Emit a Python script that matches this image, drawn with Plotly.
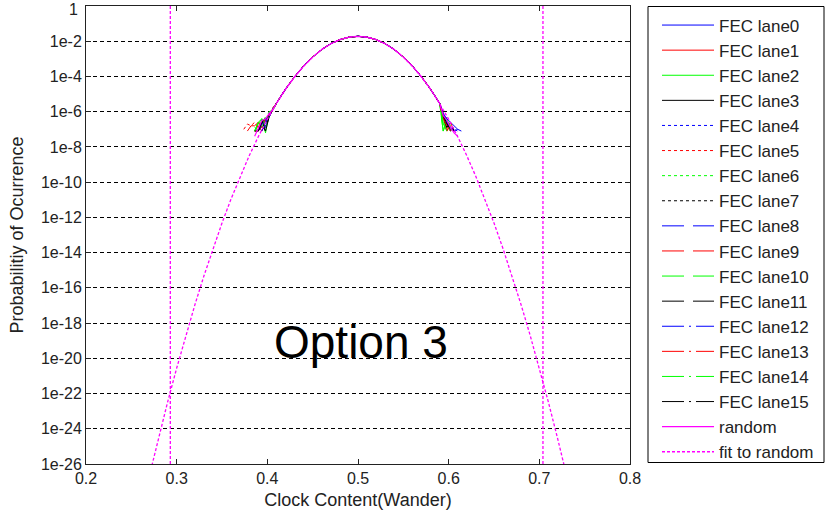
import plotly.graph_objects as go

# ---------------- data (log10 of probability) ----------------
core_x = [0.41, 0.42, 0.43, 0.44, 0.45, 0.46, 0.47, 0.48, 0.49, 0.50,
          0.51, 0.52, 0.53, 0.54, 0.55, 0.56, 0.57, 0.58, 0.59]
core_log = [-5.52, -4.72, -4.02, -3.41, -2.90, -2.47, -2.14, -1.91, -1.77, -1.72,
            -1.77, -1.91, -2.14, -2.47, -2.90, -3.41, -4.02, -4.72, -5.52]

tail_left_x = [0.374, 0.378, 0.382, 0.386, 0.390, 0.394, 0.398, 0.402, 0.406]
tail_right_x = [0.594, 0.598, 0.602, 0.606, 0.610, 0.614]

lane_left = [
    [None, None, None, None, -7.1, -6.6, -6.9, -6.2, -5.9],
    [None, None, None, -7.1, -6.8, -7.1, -6.5, -6.3, -5.8],
    [None, None, None, -7.1, -6.7, -6.4, -7.2, -6.1, -5.9],
    [None, None, None, None, -7.1, -6.8, -7.1, -6.3, -5.9],
    [None, None, None, None, -6.9, -7.1, -6.5, -6.2, -5.8],
    [-7.0, -6.7, -6.8, -6.6, -6.9, -6.5, -6.6, -6.1, -5.9],
    [None, None, None, -6.9, -7.1, -6.6, -6.3, -6.2, -5.9],
    [None, None, None, None, -7.1, -6.6, -6.8, -6.1, -5.9],
    [None, None, None, None, None, -7.1, -6.6, -6.3, -5.9],
    [None, None, None, -7.1, -7.1, -6.7, -6.4, -6.2, -5.8],
    [None, None, None, -7.1, -6.6, -6.9, -6.4, -6.0, -5.9],
    [None, None, None, None, -7.1, -6.5, -7.1, -6.2, -5.9],
    [None, None, None, None, -7.1, -6.7, -6.5, -6.1, -5.9],
    [None, -7.1, -6.8, -6.8, -6.6, -6.9, -6.4, -6.2, -5.9],
    [None, None, None, -7.1, -6.6, -6.4, -6.7, -6.1, -5.9],
    [None, None, None, -7.1, -7.1, -6.6, -6.4, -6.2, -5.9],
]
lane_right = [
    [-6.2, -6.4, -6.6, -6.8, -7.0, -7.1],
    [-6.3, -7.1, -6.6, -7.1, None, None],
    [-7.1, -6.5, -7.1, None, None, None],
    [-6.1, -6.6, -6.9, -7.1, None, None],
    [-6.2, -6.5, -6.9, -7.0, -7.1, None],
    [-6.4, -6.9, -6.6, -7.1, None, None],
    [-6.8, -6.3, -7.1, None, None, None],
    [-6.2, -6.7, -7.1, -6.9, None, None],
    [-6.1, -6.4, -6.7, -7.1, -7.0, None],
    [-6.5, -7.1, -6.8, None, None, None],
    [-7.1, -6.4, -6.8, None, None, None],
    [-6.3, -6.9, -6.6, -7.1, None, None],
    [-6.2, -6.6, -6.9, -7.1, None, None],
    [-6.4, -6.8, -7.1, None, None, None],
    [-6.6, -7.1, None, None, None, None],
    [-6.2, -6.7, -7.0, -7.1, None, None],
]
random_left = [None, None, None, -7.4, -6.9, -6.5, -6.4, -6.1, -5.9]
random_right = [-6.2, -6.5, -6.9, -7.2, -7.4, None]

fit_x = [0.27, 0.28, 0.29, 0.30, 0.31, 0.32, 0.33, 0.34, 0.35, 0.36, 0.37, 0.38,
         0.39, 0.40, 0.41, 0.42, 0.43, 0.44, 0.45, 0.46, 0.47, 0.48, 0.49, 0.50,
         0.51, 0.52, 0.53, 0.54, 0.55, 0.56, 0.57, 0.58, 0.59, 0.60, 0.61, 0.62,
         0.63, 0.64, 0.65, 0.66, 0.67, 0.68, 0.69, 0.70, 0.71, 0.72, 0.73]
fit_log = [-26.64, -24.52, -22.49, -20.56, -18.72, -16.98, -15.33, -13.78, -12.32,
           -10.95, -9.68, -8.50, -7.42, -6.43, -5.54, -4.73, -4.03, -3.42, -2.90,
           -2.47, -2.14, -1.91, -1.77, -1.72, -1.77, -1.91, -2.14, -2.47, -2.90,
           -3.42, -4.03, -4.73, -5.54, -6.43, -7.42, -8.50, -9.68, -10.95, -12.32,
           -13.78, -15.33, -16.98, -18.72, -20.56, -22.49, -24.52, -26.64]

limit_x = [0.293, 0.704]

lane_names = ["FEC lane%d" % i for i in range(16)]
ytick_exp = [0, -2, -4, -6, -8, -10, -12, -14, -16, -18, -20, -22, -24, -26]
ytick_text = ["1"] + ["1e%d" % e for e in ytick_exp[1:]]
xtick_vals = [0.2, 0.3, 0.4, 0.5, 0.6, 0.7, 0.8]

# ---------------- styles ----------------
colors = ["#0000ff", "#ff0000", "#00ff00", "#000000"]
dashes = ["solid", "3px,3px", "22px,9px", "22px,5px,2px,5px"]
MAG = "#ff00ff"
FONT = "Liberation Sans, Arial"
TXT = "#222222"


def to_p(vals):
    return [None if v is None else 10 ** v for v in vals]


fig = go.Figure()
for i in range(16):
    xs = tail_left_x + core_x + tail_right_x
    ys = to_p(lane_left[i] + core_log + lane_right[i])
    fig.add_trace(go.Scatter(
        x=xs, y=ys, mode="lines", name=lane_names[i],
        line=dict(color=colors[i % 4], width=1, dash=dashes[i // 4])))

fig.add_trace(go.Scatter(
    x=tail_left_x + core_x + tail_right_x,
    y=to_p(random_left + core_log + random_right),
    mode="lines", name="random",
    line=dict(color=MAG, width=1.2)))

fig.add_trace(go.Scatter(
    x=fit_x, y=to_p(fit_log), mode="lines", name="fit to random",
    line=dict(color=MAG, width=1.3, dash="3px,2px")))

fig.add_trace(go.Scatter(
    x=[limit_x[0], limit_x[0], None, limit_x[1], limit_x[1]],
    y=[1, 1e-26, None, 1e-26, 1],
    mode="lines", showlegend=False,
    line=dict(color=MAG, width=1.3, dash="3px,2px")))

fig.add_annotation(x=0.5035, y=-19.05, xref="x", yref="y", text="Option 3",
                   showarrow=False, font=dict(family=FONT, size=46, color="#000000"))

# top tick label "1" (kept inside the page, as in the reference)
fig.add_annotation(x=(80 - 86) / 544, y=(464.5 - 10) / 458, xref="paper", yref="paper",
                   xanchor="right", yanchor="middle", text=ytick_text[0], showarrow=False,
                   font=dict(family=FONT, size=16, color=TXT))

# legend frame
fig.add_shape(type="rect", xref="paper", yref="paper",
              x0=(648 - 86) / 544, x1=(824 - 86) / 544,
              y0=(464.5 - 463) / 458, y1=(464.5 - 7) / 458,
              line=dict(color="#000000", width=1), fillcolor="rgba(0,0,0,0)")

axis_font = dict(family=FONT, size=16, color=TXT)
title_font = dict(family=FONT, size=18, color=TXT)

fig.update_layout(
    width=827, height=510,
    margin=dict(l=86, r=197, t=6, b=46, autoexpand=False),
    paper_bgcolor="white", plot_bgcolor="white",
    font=dict(family=FONT, size=16, color=TXT),
    legend=dict(x=(657 - 86) / 544, xanchor="left", y=(464.5 - 8) / 458, yanchor="top",
                bgcolor="rgba(0,0,0,0)", borderwidth=0, traceorder="normal",
                tracegroupgap=0, itemwidth=52, maxheight=505,
                font=dict(family=FONT, size=17, color=TXT)),
    xaxis=dict(range=[0.2, 0.8], tickvals=xtick_vals, tickformat=".1f",
               ticks="inside", ticklen=5, tickcolor=TXT,
               showline=True, linecolor=TXT, linewidth=1, mirror="ticks",
               showgrid=False, zeroline=False, tickfont=axis_font,
               ticklabeloverflow="allow",
               title=dict(text="Clock Content(Wander)", standoff=7, font=title_font)),
    yaxis=dict(type="log", range=[-26.0005, 0.0005], tickvals=[10 ** e for e in ytick_exp],
               ticktext=[""] + ytick_text[1:], ticks="inside", ticklen=5, tickcolor=TXT,
               showline=True, linecolor=TXT, linewidth=1, mirror="ticks",
               showgrid=True, gridcolor="#000000", gridwidth=1, griddash="4px,3px",
               zeroline=False, tickfont=axis_font, ticklabeloverflow="allow",
               title=dict(text="Probabilitiy of Ocurrence", standoff=12, font=title_font)),
)

fig.write_html("out.html")
